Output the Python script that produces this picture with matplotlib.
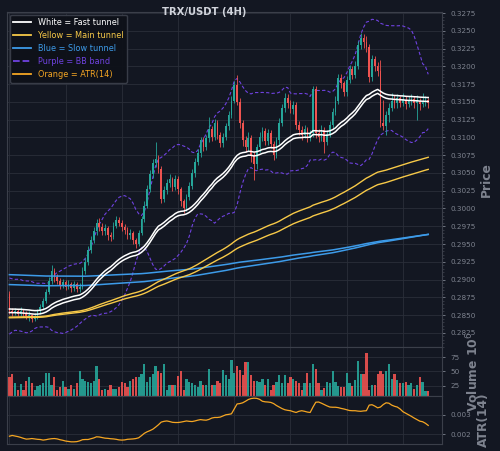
import numpy as np
import pandas as pd
import matplotlib
matplotlib.use("Agg")
import matplotlib.pyplot as plt
from matplotlib.lines import Line2D
from matplotlib.ticker import MultipleLocator, AutoMinorLocator

# ultimas 150 velas de 4H
close = [0.2856, 0.2853, 0.2856, 0.2852, 0.2855, 0.2851, 0.2848, 0.2850, 0.2845, 0.2848,
         0.2855, 0.2862, 0.2870, 0.2882, 0.2898, 0.2912, 0.2903, 0.2898, 0.2892, 0.2897,
         0.2890, 0.2894, 0.2888, 0.2893, 0.2887, 0.2890, 0.2912, 0.2925, 0.2942, 0.2956,
         0.2968, 0.2980, 0.2974, 0.2968, 0.2972, 0.2962, 0.2960, 0.2976, 0.2984, 0.2980,
         0.2974, 0.2970, 0.2962, 0.2966, 0.2955, 0.2950, 0.2966, 0.2985, 0.3004, 0.3028,
         0.3048, 0.3064, 0.3070, 0.3056, 0.3014, 0.3026, 0.3036, 0.3041, 0.3030, 0.3042,
         0.3027, 0.3010, 0.3001, 0.3016, 0.3032, 0.3050, 0.3066, 0.3078, 0.3096, 0.3087,
         0.3099, 0.3112, 0.3101, 0.3121, 0.3104, 0.3092, 0.3101, 0.3116, 0.3132, 0.3152,
         0.3174, 0.3150, 0.3120, 0.3096, 0.3086, 0.3099, 0.3074, 0.3062, 0.3086, 0.3101,
         0.3109, 0.3095, 0.3106, 0.3091, 0.3076, 0.3096, 0.3121, 0.3141, 0.3156, 0.3148,
         0.3140, 0.3146, 0.3118, 0.3110, 0.3104, 0.3112, 0.3100, 0.3106, 0.3168, 0.3106,
         0.3100, 0.3111, 0.3094, 0.3105, 0.3118, 0.3136, 0.3152, 0.3183, 0.3176, 0.3164,
         0.3181, 0.3196, 0.3188, 0.3201, 0.3230, 0.3240, 0.3234, 0.3228, 0.3185, 0.3210,
         0.3200, 0.3194, 0.3121, 0.3116, 0.3131, 0.3142, 0.3152, 0.3148, 0.3155, 0.3149,
         0.3153, 0.3147, 0.3151, 0.3154, 0.3149, 0.3152, 0.3147, 0.3151, 0.3153, 0.3148]

high = [0.2884, 0.2860, 0.2860, 0.2859, 0.2861, 0.2858, 0.2855, 0.2856, 0.2852, 0.2853,
        0.2859, 0.2866, 0.2874, 0.2886, 0.2903, 0.2921, 0.2916, 0.2908, 0.2902, 0.2901,
        0.2900, 0.2899, 0.2897, 0.2898, 0.2896, 0.2895, 0.2917, 0.2930, 0.2947, 0.2961,
        0.2974, 0.2985, 0.2986, 0.2979, 0.2978, 0.2976, 0.2967, 0.2981, 0.2989, 0.2988,
        0.2984, 0.2978, 0.2974, 0.2971, 0.2969, 0.2959, 0.2970, 0.2990, 0.3010, 0.3033,
        0.3054, 0.3070, 0.3094, 0.3076, 0.3060, 0.3031, 0.3042, 0.3048, 0.3045, 0.3047,
        0.3046, 0.3030, 0.3014, 0.3020, 0.3037, 0.3055, 0.3071, 0.3084, 0.3101, 0.3100,
        0.3104, 0.3129, 0.3116, 0.3126, 0.3125, 0.3108, 0.3106, 0.3121, 0.3137, 0.3158,
        0.3180, 0.3188, 0.3155, 0.3125, 0.3102, 0.3107, 0.3103, 0.3080, 0.3091, 0.3107,
        0.3115, 0.3113, 0.3112, 0.3110, 0.3095, 0.3101, 0.3127, 0.3147, 0.3162, 0.3161,
        0.3153, 0.3152, 0.3150, 0.3123, 0.3116, 0.3117, 0.3115, 0.3111, 0.3173, 0.3172,
        0.3112, 0.3117, 0.3115, 0.3110, 0.3123, 0.3141, 0.3158, 0.3189, 0.3190, 0.3180,
        0.3187, 0.3202, 0.3201, 0.3207, 0.3236, 0.3247, 0.3245, 0.3243, 0.3232, 0.3216,
        0.3214, 0.3206, 0.3209, 0.3153, 0.3137, 0.3148, 0.3162, 0.3160, 0.3161, 0.3159,
        0.3162, 0.3158, 0.3158, 0.3161, 0.3158, 0.3160, 0.3156, 0.3163, 0.3158, 0.3156]

low = [0.2852, 0.2849, 0.2850, 0.2848, 0.2849, 0.2847, 0.2844, 0.2842, 0.2840, 0.2841,
       0.2845, 0.2852, 0.2859, 0.2867, 0.2879, 0.2894, 0.2897, 0.2893, 0.2887, 0.2888,
       0.2885, 0.2886, 0.2883, 0.2884, 0.2882, 0.2883, 0.2886, 0.2908, 0.2921, 0.2937,
       0.2951, 0.2963, 0.2969, 0.2962, 0.2963, 0.2956, 0.2954, 0.2957, 0.2972, 0.2975,
       0.2969, 0.2964, 0.2957, 0.2957, 0.2950, 0.2945, 0.2947, 0.2962, 0.2981, 0.3000,
       0.3023, 0.3043, 0.3058, 0.3050, 0.3008, 0.3009, 0.3021, 0.3030, 0.3024, 0.3026,
       0.3020, 0.3004, 0.2994, 0.2997, 0.3012, 0.3028, 0.3045, 0.3061, 0.3073, 0.3081,
       0.3082, 0.3094, 0.3095, 0.3097, 0.3098, 0.3086, 0.3087, 0.3097, 0.3111, 0.3127,
       0.3148, 0.3145, 0.3114, 0.3088, 0.3080, 0.3081, 0.3066, 0.3040, 0.3056, 0.3080,
       0.3095, 0.3089, 0.3090, 0.3085, 0.3068, 0.3071, 0.3091, 0.3116, 0.3136, 0.3141,
       0.3134, 0.3133, 0.3112, 0.3104, 0.3097, 0.3099, 0.3094, 0.3095, 0.3101, 0.3099,
       0.3093, 0.3095, 0.3078, 0.3089, 0.3100, 0.3113, 0.3131, 0.3147, 0.3170, 0.3158,
       0.3159, 0.3176, 0.3182, 0.3183, 0.3196, 0.3224, 0.3226, 0.3220, 0.3178, 0.3180,
       0.3193, 0.3186, 0.3115, 0.3110, 0.3104, 0.3122, 0.3137, 0.3142, 0.3141, 0.3143,
       0.3144, 0.3140, 0.3143, 0.3145, 0.3142, 0.3125, 0.3139, 0.3143, 0.3144, 0.3142]

# volume em milhoes
volume = [40, 45, 29, 18, 28, 18, 33, 41, 29, 18,
          24, 26, 30, 47, 48, 27, 40, 18, 22, 33,
          23, 19, 27, 20, 29, 50, 36, 34, 32, 30,
          33, 60, 37, 17, 20, 18, 27, 20, 20, 23,
          31, 29, 23, 34, 37, 41, 40, 46, 63, 32,
          41, 46, 60, 51, 47, 63, 18, 27, 27, 27,
          42, 50, 18, 36, 32, 30, 26, 23, 34, 27,
          27, 54, 27, 27, 34, 29, 53, 44, 36, 71,
          48, 60, 53, 44, 66, 66, 44, 34, 34, 31,
          37, 26, 37, 18, 27, 32, 43, 29, 44, 29,
          40, 37, 34, 29, 18, 29, 48, 29, 64, 55,
          29, 18, 21, 31, 29, 50, 31, 24, 23, 23,
          48, 30, 25, 35, 69, 45, 45, 83, 17, 26,
          26, 46, 50, 45, 50, 64, 36, 46, 35, 30,
          30, 32, 26, 30, 20, 26, 40, 31, 16, 16]

atr = [0.00189, 0.00193, 0.00190, 0.00187, 0.00183, 0.00178, 0.00174, 0.00175, 0.00177, 0.00175,
       0.00173, 0.00172, 0.00169, 0.00171, 0.00174, 0.00176, 0.00177, 0.00175, 0.00171, 0.00168,
       0.00164, 0.00162, 0.00160, 0.00160, 0.00161, 0.00165, 0.00171, 0.00172, 0.00172, 0.00176,
       0.00180, 0.00186, 0.00185, 0.00182, 0.00179, 0.00178, 0.00176, 0.00175, 0.00173, 0.00170,
       0.00169, 0.00170, 0.00173, 0.00174, 0.00175, 0.00177, 0.00181, 0.00192, 0.00204, 0.00212,
       0.00218, 0.00225, 0.00236, 0.00248, 0.00262, 0.00266, 0.00268, 0.00265, 0.00261, 0.00260,
       0.00260, 0.00262, 0.00265, 0.00268, 0.00266, 0.00265, 0.00268, 0.00272, 0.00275, 0.00273,
       0.00272, 0.00276, 0.00283, 0.00286, 0.00286, 0.00288, 0.00294, 0.00300, 0.00302, 0.00305,
       0.00330, 0.00356, 0.00358, 0.00362, 0.00370, 0.00379, 0.00384, 0.00386, 0.00385, 0.00380,
       0.00370, 0.00367, 0.00366, 0.00364, 0.00358, 0.00348, 0.00340, 0.00332, 0.00326, 0.00323,
       0.00321, 0.00316, 0.00312, 0.00318, 0.00321, 0.00318, 0.00314, 0.00312, 0.00340, 0.00365,
       0.00366, 0.00360, 0.00353, 0.00346, 0.00340, 0.00339, 0.00339, 0.00337, 0.00333, 0.00330,
       0.00326, 0.00322, 0.00321, 0.00321, 0.00319, 0.00318, 0.00320, 0.00321, 0.00350, 0.00352,
       0.00345, 0.00336, 0.00340, 0.00353, 0.00362, 0.00360, 0.00350, 0.00344, 0.00340, 0.00330,
       0.00316, 0.00308, 0.00300, 0.00292, 0.00283, 0.00275, 0.00267, 0.00264, 0.00256, 0.00245]

# fechamentos antes da janela (so para aquecer a BB)
pre_close = [0.2833, 0.2840, 0.2855, 0.2867, 0.2879, 0.2863, 0.2845, 0.2835, 0.2830, 0.2843,
             0.2857, 0.2870, 0.2885, 0.2893, 0.2887, 0.2880, 0.2875, 0.2879, 0.2880]

# valor das EMAs no candle anterior a janela
ema_seed = {34: 0.2856, 144: 0.2847, 169: 0.2846, 576: 0.2893, 676: 0.2907}

bg = "#131722"
txt = "#7e838f"
up_c, down_c = "#26a69a", "#ef5350"
c_white, c_yellow, c_blue = "#ffffff", "#f7c948", "#3d9be9"
c_purple, c_orange = "#6f42e0", "#f5a623"


def ema(valores, span, seed):
    a = 2 / (span + 1)
    saida = []
    ant = seed
    for v in valores:
        ant = ant + a * (v - ant)
        saida.append(ant)
    return np.array(saida)


c = np.array(close)
o = np.r_[pre_close[-1], c[:-1]]
h = np.array(high)
l = np.array(low)
x = np.arange(len(c))
subiu = c >= o
cores = np.where(subiu, up_c, down_c)

fast = ema(c, 34, ema_seed[34])
main1, main2 = ema(c, 144, ema_seed[144]), ema(c, 169, ema_seed[169])
slow1, slow2 = ema(c, 576, ema_seed[576]), ema(c, 676, ema_seed[676])

s = pd.Series(np.r_[pre_close, c])
media = s.rolling(20).mean().values[-len(c):]
desv = s.rolling(20).std().values[-len(c):]
bb_up, bb_lo = media + 2 * desv, media - 2 * desv

fig = plt.figure(figsize=(5, 4.51), dpi=100, facecolor=bg)
ax = fig.add_axes([0.014, 0.2306, 0.87, 0.7434])
axv = fig.add_axes([0.014, 0.1220, 0.87, 0.1086], sharex=ax)
axa = fig.add_axes([0.014, 0.0155, 0.87, 0.1065], sharex=ax)

for a in (ax, axv, axa):
    a.set_facecolor(bg)
    a.grid(True, color="#2a2e39", lw=0.6)
    a.set_axisbelow(True)
    for sp in a.spines.values():
        sp.set_color("#3b3f4a")
    a.yaxis.tick_right()
    a.yaxis.set_label_position("right")
    a.tick_params(colors=txt, labelsize=5.2, length=2.5, width=0.6)
    a.tick_params(axis="x", labelbottom=False, length=0)
    a.xaxis.set_major_locator(MultipleLocator(20))

# candles
ax.vlines(x, l, h, colors=cores, lw=0.6, zorder=3)
ax.bar(x, np.where(np.abs(c - o) < 1e-5, 1e-5, c - o), bottom=o, width=0.6,
       color=cores, zorder=3)

ax.plot(x, bb_up, color=c_purple, lw=0.8, ls=(0, (3, 2)), zorder=2)
ax.plot(x, bb_lo, color=c_purple, lw=0.8, ls=(0, (3, 2)), zorder=2)
ax.plot(x, slow1, color=c_blue, lw=1.1, zorder=4)
ax.plot(x, slow2, color=c_blue, lw=1.1, zorder=4)
ax.plot(x, main1, color=c_yellow, lw=1.0, zorder=4)
ax.plot(x, main2, color=c_yellow, lw=1.0, zorder=4)
ax.plot(x, fast * 1.00088, color=c_white, lw=1.1, zorder=5)
ax.plot(x, fast * 0.99912, color=c_white, lw=1.1, zorder=5)

ax.set_xlim(-0.85, 153.9)
ax.set_ylim(0.2805, 0.3277)
ax.yaxis.set_major_locator(MultipleLocator(0.0025))
ax.yaxis.set_minor_locator(AutoMinorLocator(5))
ax.yaxis.set_major_formatter(lambda v, p: f"{v:.4f}")
ax.tick_params(axis="y", which="minor", colors="#3b3f4a", length=1.5)
ax.set_ylabel("Price", color=txt, fontsize=8.8, fontweight="bold", labelpad=3)
ax.set_title("TRX/USDT (4H)", color="#d1d4dc", fontsize=7.2, fontweight="bold",
             x=0.453, y=0.991, pad=0)

itens = [("White = Fast tunnel", c_white, "-"),
         ("Yellow = Main tunnel", c_yellow, "-"),
         ("Blue = Slow tunnel", c_blue, "-"),
         ("Purple = BB band", c_purple, "--"),
         ("Orange = ATR(14)", c_orange, "-")]
alcas = [Line2D([], [], color=cor, ls=est, lw=1.3) for _, cor, est in itens]
leg = ax.legend(alcas, [t for t, _, _ in itens], loc="upper left", fontsize=5.9,
                facecolor="#0e1119", edgecolor="#3b3f4a", framealpha=0.95,
                borderaxespad=0.35, handlelength=2.2, labelspacing=0.5, fancybox=True)
for t, (_, cor, _) in zip(leg.get_texts(), itens):
    t.set_color(cor)

# volume
axv.bar(x, volume, width=0.8, color=cores, alpha=0.9)
axv.set_ylim(7, 93)
axv.yaxis.set_major_locator(MultipleLocator(25))
axv.set_ylabel("Volume 10$^6$", color=txt, fontsize=8.8, fontweight="bold", labelpad=4)

# ATR
axa.plot(x, atr, color=c_orange, lw=0.9)
axa.yaxis.set_major_locator(MultipleLocator(0.001))
axa.yaxis.set_major_formatter(lambda v, p: f"{v:.3f}")
axa.set_ylabel("ATR(14)", color=txt, fontsize=8.8, fontweight="bold", labelpad=4)

fig.savefig("out.png", dpi=100, facecolor=bg)
